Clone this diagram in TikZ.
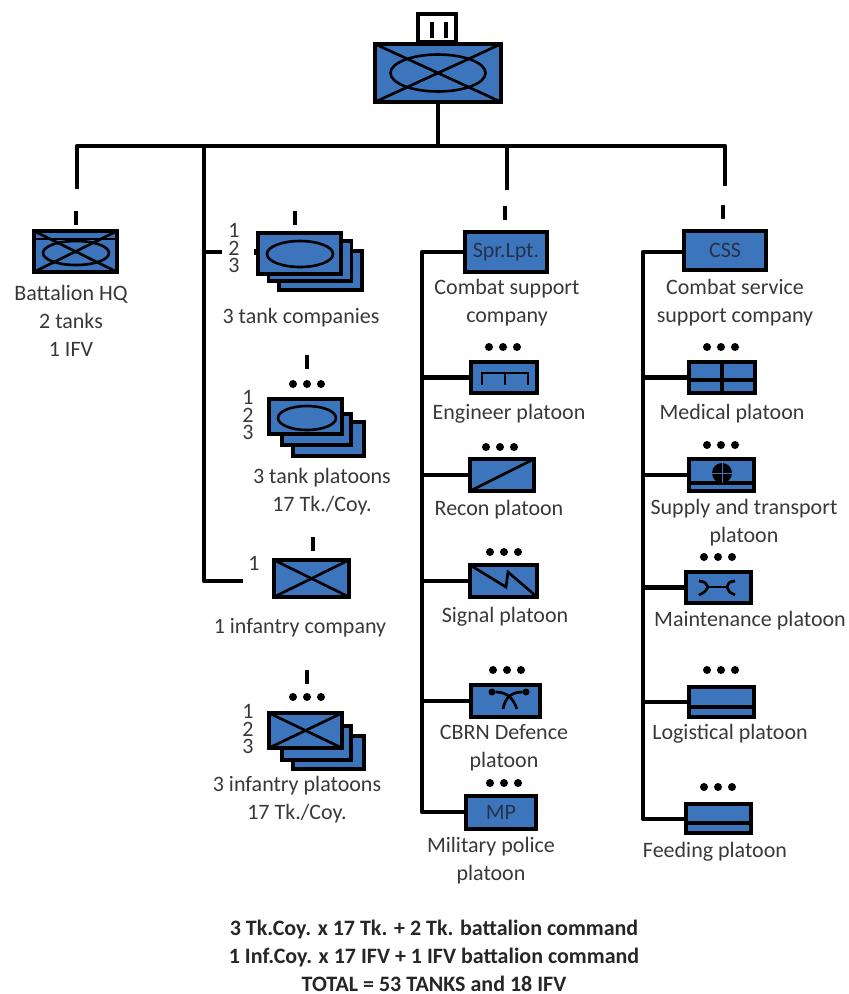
\documentclass[tikz,border=0pt]{standalone}
\usepackage{fontspec}
\usetikzlibrary{shapes}
\setmainfont{Carlito}
\definecolor{unitblue}{HTML}{3D75BC}
\definecolor{wordgrey}{HTML}{383838}
\definecolor{boxword}{HTML}{25324C}
\begin{document}
\begin{tikzpicture}[x=1pt,y=-1pt,
      every node/.append style={inner sep=0pt,outer sep=0pt},
      unit/.style 2 args={draw=black,fill=unitblue,line width=3.2pt,minimum width=#1,minimum height=#2},
      oval/.style 2 args={draw=black,line width=2.6pt,ellipse,minimum width=#1,minimum height=#2},
      mark line/.style={draw=black,line width=2.7pt},
      link/.style={draw=black,line width=4.4pt},
      word/.style={font=\fontsize{22}{28}\selectfont,color=wordgrey,align=center},
      num/.style={font=\fontsize{22}{17.5}\selectfont,color=wordgrey,align=center},
      inbox/.style={font=\fontsize{22}{24}\selectfont,text=boxword},
      tick/.style={fill=black,minimum width=4pt,minimum height=14pt},
      dot/.style={fill=black,circle,minimum size=8pt}]
    \useasboundingbox (0,0) rectangle (849,994);
    % commanding unit
    \node (echelon) [unit={38pt}{28pt},fill=white] at (437,28) {};
    \node (bnbar1) [tick,minimum height=16pt] at (432,30) {};
    \node (bnbar2) [tick,minimum height=16pt] at (446,30) {};
    \node (bn) [unit={126pt}{58pt}] at (438,73) {};
    \draw [mark line] (bn.north west) -- (bn.south east);
    \draw [mark line] (bn.north east) -- (bn.south west);
    \node (bnoval) [oval={95pt}{37pt}] at (438,73) {};
    % bus
    \coordinate (bus) at (438,146);
    \coordinate (busL) at (77,146);
    \coordinate (busT) at (204,146);
    \coordinate (busS) at (507,146);
    \coordinate (busC) at (725,146);
    \coordinate (hqEnd) at (77,189);
    \coordinate (sprEnd) at (507,190);
    \coordinate (cssEnd) at (725,186);
    \coordinate (tankEnd) at (222,252);
    \coordinate (tankFork) at (204,252);
    \coordinate (infEnd) at (243,581);
    \coordinate (infFork) at (204,581);
    \draw [link] (bn.south) -- (bus);
    \draw [link,line join=round] (hqEnd) -- (busL) -- (busC) -- (cssEnd);
    \draw [link] (busS) -- (sprEnd);
    \draw [link,line join=round] (busT) -- (infFork) -- (infEnd);
    \draw [link] (tankFork) -- (tankEnd);
    % battalion HQ
    \node (hqtick) [tick] at (76,218) {};
    \node (hq) [unit={83pt}{41pt}] at (75.5,251.5) {};
    \node (hqoval) [oval={66pt}{24pt}] at (76,253) {};
    \draw [mark line] (hq.north west) -- (hq.south east);
    \draw [mark line] (hq.north east) -- (hq.south west);
    \coordinate (hqbarL) at (33,239);
    \coordinate (hqbarR) at (118,239);
    \draw [mark line] (hqbarL) -- (hqbarR);
    \node (hqtext) [word] at (71,321) {Battalion HQ\\2 tanks\\1 IFV};
    % tank companies
    \node (tcotick) [tick] at (295,218) {};
    \node (tco3) [unit={83pt}{39pt}] at (320.5,270.5) {};
    \node (tco2) [unit={83pt}{40pt}] at (310,261) {};
    \node (tco1) [unit={83pt}{41pt}] at (299.5,253.5) {};
    \node (tcooval) [oval={66pt}{26pt}] at (300,254) {};
    \node (tconum) [num] at (234,248) {1\\2\\3};
    \node (tcostub) [fill=black,minimum width=3pt,minimum height=6pt] at (255,252) {};
    \node (tcotext) [word] at (301,318) {3 tank companies};
    % tank platoons
    \node (tpltick) [tick] at (307,362) {};
    \node (tpl3) [unit={71pt}{34pt}] at (328.5,439) {};
    \node (tpl2) [unit={69pt}{31pt}] at (316.5,429.5) {};
    \node (tpl1) [unit={73pt}{35pt}] at (305.5,416.5) {};
    \node (tploval) [oval={58pt}{24pt}] at (307,418) {};
    \node (tplnum) [num] at (248,415) {1\\2\\3};
    \node (tpltext) [word] at (322,492) {3 tank platoons\\17 Tk./Coy.};
    % infantry company
    \node (icotick) [tick] at (313,544) {};
    \node (ico) [unit={75pt}{37pt}] at (311.5,578.5) {};
    \draw [mark line] (ico.north west) -- (ico.south east);
    \draw [mark line] (ico.north east) -- (ico.south west);
    \node (iconum) [word] at (254,563) {1};
    \node (icotext) [word] at (300,628) {1 infantry company};
    % infantry platoons
    \node (ipltick) [tick] at (307,677) {};
    \node (ipl3) [unit={71pt}{33pt}] at (328.5,752.5) {};
    \node (ipl2) [unit={69pt}{34pt}] at (316.5,743) {};
    \node (ipl1) [unit={73pt}{35pt}] at (305.5,730.5) {};
    \draw [mark line] (ipl1.north west) -- (ipl1.south east);
    \draw [mark line] (ipl1.north east) -- (ipl1.south west);
    \node (iplnum) [num] at (248,729) {1\\2\\3};
    \node (ipltext) [word] at (297,800) {3 infantry platoons\\17 Tk./Coy.};
    % combat support column
    \node (sprtick) [tick] at (505,213) {};
    \node (spr) [unit={82pt}{40pt},inbox] at (506,252) {Spr.Lpt.};
    \node (sprtext) [word] at (507,303) {Combat support\\company};
    \coordinate (railS) at (422,252);
    \coordinate (railSend) at (422,812);
    \node (eng) [unit={66pt}{31pt}] at (504,377.5) {};
    \coordinate (engL) at (482,385);
    \coordinate (engLt) at (482,373);
    \coordinate (engRt) at (528,373);
    \coordinate (engR) at (528,385);
    \coordinate (engMt) at (505,373);
    \coordinate (engM) at (505,385);
    \draw [mark line] (engL) -- (engLt) -- (engRt) -- (engR);
    \draw [mark line] (engMt) -- (engM);
    \node (engtext) [word] at (509,414) {Engineer platoon};
    \node (rec) [unit={64pt}{32pt}] at (502,475) {};
    \draw [mark line] (rec.south west) -- (rec.north east);
    \node (rectext) [word] at (499,510) {Recon platoon};
    \node (sig) [unit={67pt}{32pt}] at (503.5,581) {};
    \coordinate (sigA) at (506,587);
    \coordinate (sigB) at (508,572);
    \draw [mark line] (sig.north west) -- (sigA) -- (sigB) -- (sig.south east);
    \node (sigtext) [word] at (505,617) {Signal platoon};
    \node (cbrn) [unit={69pt}{32pt}] at (505.5,701) {};
    \node (cbrnL) [fill=black,circle,minimum size=7pt] at (492,692) {};
    \node (cbrnR) [fill=black,circle,minimum size=7pt] at (526,692) {};
    \coordinate (cbrnLe) at (503,709);
    \coordinate (cbrnRe) at (517,709);
    \draw [mark line] (cbrnL) .. controls (507,692) and (513,698) .. (cbrnRe);
    \draw [mark line] (cbrnR) .. controls (511,692) and (505,698) .. (cbrnLe);
    \node (cbrntext) [word] at (504,748) {CBRN Defence\\platoon};
    \node (mp) [unit={70pt}{33pt},inbox] at (501,812.5) {MP};
    \node (mptext) [word] at (491,861) {Military police\\platoon};
    \draw [link,line join=round] (spr.west) -- (railS) -- (railSend) -- (railSend -| mp.west);
    \draw [link] (eng.west -| railS) -- (eng.west);
    \draw [link] (rec.west -| railS) -- (rec.west);
    \draw [link] (sig.west -| railS) -- (sig.west);
    \draw [link] (cbrn.west -| railS) -- (cbrn.west);
    % combat service support column
    \node (csstick) [tick] at (723,212) {};
    \node (css) [unit={82pt}{39pt},inbox] at (725,250.5) {CSS};
    \node (csstext) [word] at (735,303) {Combat service\\support company};
    \coordinate (railC) at (643,252);
    \coordinate (railCend) at (643,819);
    \node (med) [unit={66pt}{31pt}] at (722,377.5) {};
    \coordinate (medTop) at (722,361);
    \coordinate (medBot) at (722,394);
    \coordinate (medL) at (688,380);
    \coordinate (medR) at (756,380);
    \draw [link] (medTop) -- (medBot);
    \draw [link,line width=3.4pt] (medL) -- (medR);
    \node (medtext) [word] at (732,414) {Medical platoon};
    \node (sup) [unit={65pt}{32pt}] at (721.5,475) {};
    \coordinate (supL) at (688,483);
    \coordinate (supR) at (755,483);
    \draw [link,line width=3.4pt] (supL) -- (supR);
    \node (supwheel) [fill=black,circle,minimum size=20pt] at (722,473) {};
    \draw [unitblue,line width=.8pt] (supwheel.north) -- (supwheel.south);
    \draw [unitblue,line width=.8pt] (supwheel.west) -- (supwheel.east);
    \node (suptext) [word] at (744,523) {Supply and transport\\platoon};
    \node (mnt) [unit={65pt}{31pt}] at (718.5,587.5) {};
    \coordinate (mntL1) at (699,581);
    \coordinate (mntL2) at (708,587);
    \coordinate (mntL3) at (699,595);
    \coordinate (mntR1) at (735,581);
    \coordinate (mntR2) at (727,587);
    \coordinate (mntR3) at (735,595);
    \draw [mark line] (mntL1) .. controls (705,582) .. (mntL2) .. controls (705,592) .. (mntL3);
    \draw [mark line] (mntR1) .. controls (729,582) .. (mntR2) .. controls (729,592) .. (mntR3);
    \draw [mark line] (mntL2) -- (mntR2);
    \node (mnttext) [word] at (750,621) {Maintenance platoon};
    \node (log) [unit={65pt}{30pt}] at (721.5,702) {};
    \coordinate (logL) at (688,707);
    \coordinate (logR) at (755,707);
    \draw [link,line width=3.4pt] (logL) -- (logR);
    \node (logtext) [word] at (730,734) {Logistical platoon};
    \node (fee) [unit={65pt}{29pt}] at (718.5,818.5) {};
    \coordinate (feeL) at (685,823);
    \coordinate (feeR) at (752,823);
    \draw [link,line width=3.4pt] (feeL) -- (feeR);
    \node (feetext) [word] at (715,852) {Feeding platoon};
    \draw [link,line join=round] (railC -| css.west) -- (railC) -- (railCend) -- (railCend -| fee.west);
    \draw [link] (med.west -| railC) -- (med.west);
    \draw [link] (sup.west -| railC) -- (sup.west);
    \draw [link] (mnt.west -| railC) -- (mnt.west);
    \draw [link] (log.west -| railC) -- (log.west);
    % platoon dots
    \foreach \n/\x/\y in {a/307/384,b/307/697,c/503/347,d/500/447,e/504/552,f/507/670,g/504/783,
                          h/721/347,i/721/445,j/718/557,k/721/670,l/718/787}
      \foreach \d in {-14,0,14}
        \node (dot\n\d) [dot] at (\x+\d,\y) {};
    % totals
    \node (total) [word,font=\fontsize{22}{28}\selectfont\bfseries,color=black!85] at (434,955.5)
      {3 Tk.Coy. x 17 Tk. + 2 Tk. battalion command\\1 Inf.Coy. x 17 IFV + 1 IFV battalion command\\TOTAL = 53 TANKS and 18 IFV};
  \end{tikzpicture}
\end{document}
